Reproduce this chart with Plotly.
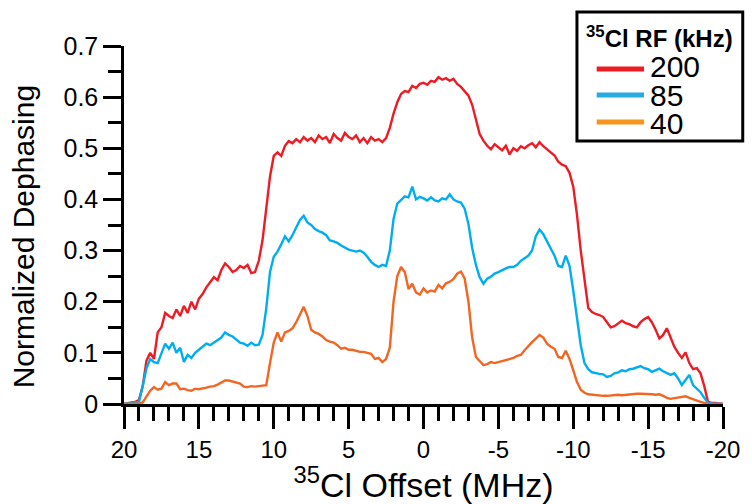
import numpy as np
import plotly.graph_objects as go

# Offset grid (MHz), 0.25 MHz steps from 20 to -20
offset_mhz = np.linspace(20, -20, 161)

# Normalized dephasing (rows = one MHz, 4 points each)
rf200 = [
    0.000, 0.002, 0.003, 0.004,   # 20
    0.008, 0.035, 0.085, 0.100,   # 19
    0.088, 0.140, 0.150, 0.178,   # 18
    0.172, 0.168, 0.185, 0.172,   # 17
    0.192, 0.178, 0.200, 0.185,   # 16
    0.206, 0.215, 0.228, 0.238,   # 15
    0.248, 0.242, 0.262, 0.275,   # 14
    0.268, 0.258, 0.262, 0.270,   # 13
    0.266, 0.272, 0.256, 0.258,   # 12
    0.280, 0.320, 0.385, 0.445,   # 11
    0.485, 0.492, 0.485, 0.505,   # 10
    0.514, 0.510, 0.518, 0.512,   # 9
    0.522, 0.515, 0.520, 0.512,   # 8
    0.525, 0.518, 0.522, 0.510,   # 7
    0.528, 0.520, 0.515, 0.530,   # 6
    0.522, 0.518, 0.525, 0.512,   # 5
    0.520, 0.510, 0.522, 0.515,   # 4
    0.518, 0.512, 0.520, 0.540,   # 3
    0.568, 0.590, 0.606, 0.612,   # 2
    0.610, 0.622, 0.618, 0.626,   # 1
    0.628, 0.624, 0.632, 0.630,   # 0
    0.639, 0.634, 0.637, 0.632,   # -1
    0.636, 0.626, 0.620, 0.612,   # -2
    0.603, 0.585, 0.555, 0.528,   # -3
    0.515, 0.505, 0.498, 0.508,   # -4
    0.502, 0.496, 0.505, 0.488,   # -5
    0.500, 0.495, 0.504, 0.500,   # -6
    0.506, 0.510, 0.502, 0.512,   # -7
    0.504, 0.498, 0.492, 0.486,   # -8
    0.474, 0.468, 0.465, 0.452,   # -9
    0.425, 0.370, 0.300, 0.240,   # -10
    0.188, 0.180, 0.176, 0.174,   # -11
    0.170, 0.160, 0.150, 0.152,   # -12
    0.158, 0.163, 0.158, 0.156,   # -13
    0.152, 0.150, 0.160, 0.166,   # -14
    0.170, 0.160, 0.145, 0.128,   # -15
    0.135, 0.148, 0.130, 0.112,   # -16
    0.100, 0.090, 0.101, 0.080,   # -17
    0.068, 0.070, 0.060, 0.035,   # -18
    0.004, 0.002, 0.002, 0.001,   # -19
    0.000,                        # -20
]

rf85 = [
    0.000, 0.001, 0.001, 0.002,   # 20
    0.004, 0.035, 0.070, 0.088,   # 19
    0.082, 0.080, 0.100, 0.118,   # 18
    0.108, 0.120, 0.100, 0.110,   # 17
    0.082, 0.096, 0.090, 0.100,   # 16
    0.106, 0.112, 0.118, 0.115,   # 15
    0.120, 0.125, 0.130, 0.140,   # 14
    0.135, 0.132, 0.125, 0.120,   # 13
    0.118, 0.114, 0.120, 0.115,   # 12
    0.116, 0.135, 0.187, 0.258,   # 11
    0.288, 0.298, 0.312, 0.328,   # 10
    0.318, 0.330, 0.345, 0.360,   # 9
    0.368, 0.355, 0.350, 0.342,   # 8
    0.338, 0.335, 0.330, 0.320,   # 7
    0.318, 0.315, 0.310, 0.306,   # 6
    0.302, 0.300, 0.298, 0.300,   # 5
    0.296, 0.288, 0.278, 0.272,   # 4
    0.268, 0.272, 0.270, 0.300,   # 3
    0.362, 0.392, 0.400, 0.406,   # 2
    0.404, 0.425, 0.400, 0.405,   # 1
    0.402, 0.398, 0.404, 0.398,   # 0
    0.396, 0.402, 0.400, 0.410,   # -1
    0.400, 0.396, 0.394, 0.382,   # -2
    0.352, 0.305, 0.272, 0.248,   # -3
    0.235, 0.245, 0.249, 0.255,   # -4
    0.258, 0.262, 0.265, 0.268,   # -5
    0.268, 0.272, 0.280, 0.285,   # -6
    0.290, 0.300, 0.328, 0.341,   # -7
    0.332, 0.318, 0.305, 0.290,   # -8
    0.270, 0.268, 0.290, 0.270,   # -9
    0.222, 0.165, 0.115, 0.080,   # -10
    0.068, 0.062, 0.060, 0.059,   # -11
    0.058, 0.053, 0.055, 0.060,   # -12
    0.062, 0.066, 0.064, 0.068,   # -13
    0.069, 0.072, 0.074, 0.070,   # -14
    0.068, 0.063, 0.066, 0.069,   # -15
    0.064, 0.060, 0.057, 0.060,   # -16
    0.050, 0.037, 0.048, 0.057,   # -17
    0.037, 0.030, 0.023, 0.012,   # -18
    0.002, 0.001, 0.001, 0.000,   # -19
    0.000,                        # -20
]

rf40 = [
    0.000, 0.000, 0.000, 0.000,   # 20
    0.001, 0.003, 0.015, 0.026,   # 19
    0.033, 0.028, 0.030, 0.043,   # 18
    0.037, 0.040, 0.040, 0.029,   # 17
    0.030, 0.027, 0.026, 0.030,   # 16
    0.029, 0.030, 0.032, 0.034,   # 15
    0.035, 0.038, 0.042, 0.046,   # 14
    0.046, 0.044, 0.043, 0.040,   # 13
    0.034, 0.033, 0.035, 0.034,   # 12
    0.035, 0.036, 0.037, 0.080,   # 11
    0.120, 0.140, 0.122, 0.140,   # 10
    0.143, 0.148, 0.160, 0.175,   # 9
    0.190, 0.172, 0.145, 0.140,   # 8
    0.137, 0.132, 0.125, 0.122,   # 7
    0.120, 0.115, 0.108, 0.110,   # 6
    0.106, 0.106, 0.104, 0.102,   # 5
    0.102, 0.100, 0.098, 0.088,   # 4
    0.090, 0.082, 0.088, 0.110,   # 3
    0.200, 0.250, 0.268, 0.258,   # 2
    0.225, 0.235, 0.218, 0.214,   # 1
    0.226, 0.218, 0.222, 0.220,   # 0
    0.233, 0.226, 0.236, 0.239,   # -1
    0.244, 0.255, 0.259, 0.245,   # -2
    0.200, 0.130, 0.092, 0.084,   # -3
    0.076, 0.078, 0.082, 0.080,   # -4
    0.082, 0.084, 0.086, 0.088,   # -5
    0.090, 0.094, 0.096, 0.105,   # -6
    0.112, 0.121, 0.128, 0.135,   # -7
    0.130, 0.118, 0.112, 0.108,   # -8
    0.092, 0.090, 0.104, 0.088,   # -9
    0.066, 0.043, 0.028, 0.022,   # -10
    0.019, 0.018, 0.017, 0.016,   # -11
    0.016, 0.016, 0.017, 0.018,   # -12
    0.018, 0.017, 0.018, 0.019,   # -13
    0.019, 0.020, 0.020, 0.020,   # -14
    0.019, 0.019, 0.018, 0.019,   # -15
    0.016, 0.012, 0.010, 0.011,   # -16
    0.012, 0.014, 0.015, 0.012,   # -17
    0.009, 0.007, 0.004, 0.002,   # -18
    0.000, 0.000, 0.000, 0.000,   # -19
    0.000,                        # -20
]

series_names = ["200", "85", "40"]
line_colors = ["#ED1C24", "#00AEEF", "#F26522"]
legend_colors = ["#ED1C24", "#29ABE2", "#F7941D"]

x_tick_vals = [20, 15, 10, 5, 0, -5, -10, -15, -20]
x_tick_text = ["20", "15", "10", "5", "0", "-5", "-10", "-15", "-20"]
y_tick_vals = [0, 0.1, 0.2, 0.3, 0.4, 0.5, 0.6, 0.7]
y_tick_text = ["0", "0.1", "0.2", "0.3", "0.4", "0.5", "0.6", "0.7"]

W, H = 752, 504
ML, MR, MT, MB = 124, 21, 46, 100
PW, PH = W - ML - MR, H - MT - MB

def px(xp):
    return (xp - ML) / PW

def py(yp):
    return (H - MB - yp) / PH

FONT = "Arial, Liberation Sans, sans-serif"

fig = go.Figure()
for name, ys, col in zip(series_names, [rf200, rf85, rf40], line_colors):
    fig.add_trace(go.Scatter(x=offset_mhz, y=ys, mode="lines", name=name,
                             line=dict(color=col, width=2.4), showlegend=False))

# Manual legend box
shapes = [dict(type="rect", xref="paper", yref="paper",
               x0=px(583), x1=px(751), y0=py(141), y1=py(12),
               line=dict(color="black", width=3), fillcolor="white", layer="above")]
annotations = [
    dict(xref="paper", yref="paper", x=px(667), y=py(37),
         text="<b><sup>35</sup>Cl RF (kHz)</b>", showarrow=False,
         xanchor="center", yanchor="middle",
         font=dict(family=FONT, size=24, color="black")),
    dict(xref="paper", yref="paper", x=px(22), y=py(236),
         text="Normalized Dephasing", showarrow=False, textangle=-90,
         xanchor="center", yanchor="middle",
         font=dict(family=FONT, size=30, color="black")),
]
line_y = [69, 95, 122]
text_y = [67, 95, 123]
for name, col, ly, ty in zip(series_names, legend_colors, line_y, text_y):
    shapes.append(dict(type="line", xref="paper", yref="paper",
                       x0=px(603), x1=px(651), y0=py(ly), y1=py(ly),
                       line=dict(color=col, width=5), layer="above"))
    annotations.append(dict(xref="paper", yref="paper", x=px(655), y=py(ty),
                            text=name, showarrow=False, xanchor="left",
                            yanchor="middle",
                            font=dict(family=FONT, size=30, color="black")))

fig.update_layout(
    width=W, height=H,
    margin=dict(l=ML, r=MR, t=MT, b=MB, pad=0),
    paper_bgcolor="white", plot_bgcolor="white",
    font=dict(family=FONT, color="black"),
    shapes=shapes, annotations=annotations,
    xaxis=dict(
        range=[20, -20], showgrid=False, zeroline=False,
        showline=True, linecolor="black", linewidth=2.5,
        tickmode="array", tickvals=x_tick_vals, ticktext=x_tick_text,
        ticks="outside", ticklen=22, tickwidth=2.5, tickcolor="black",
        tickfont=dict(family=FONT, size=24, color="black"),
        minor=dict(tickmode="linear", tick0=0, dtick=1, ticks="outside",
                   ticklen=14, tickwidth=2.5, tickcolor="black", showgrid=False),
        title=dict(text="<sup>35</sup>Cl Offset (MHz)", standoff=3,
                   font=dict(family=FONT, size=34, color="black")),
    ),
    yaxis=dict(
        range=[0, 0.7], showgrid=False, zeroline=False,
        showline=True, linecolor="black", linewidth=2.5,
        tickmode="array", tickvals=y_tick_vals, ticktext=y_tick_text,
        ticks="outside", ticklen=18, tickwidth=2.5, tickcolor="black",
        tickfont=dict(family=FONT, size=25, color="black"),
        minor=dict(tickmode="linear", tick0=0, dtick=0.05, ticks="outside",
                   ticklen=13, tickwidth=2.5, tickcolor="black", showgrid=False),
    ),
)

fig.write_html("out.html")
